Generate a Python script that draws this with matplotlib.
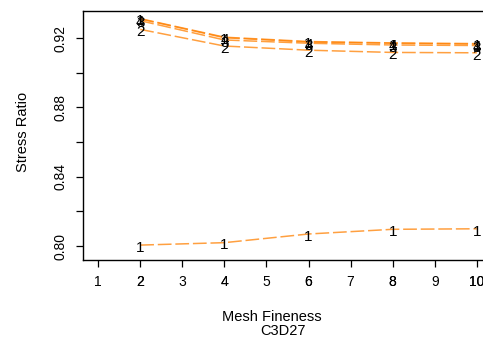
import matplotlib
matplotlib.use("Agg")
import matplotlib.pyplot as plt

plt.rcParams['font.family'] = ['Liberation Sans', 'DejaVu Sans']

mesh = [2, 4, 6, 8, 10]
xticks = [1, 2, 3, 4, 5, 6, 7, 8, 9, 10]
yticks = [0.80, 0.82, 0.84, 0.86, 0.88, 0.90, 0.92]
yticklabels = ["0.80", "", "0.84", "", "0.88", "", "0.92"]

series = [
    ("1", [0.8006, 0.8020, 0.8070, 0.8097, 0.8100]),
    ("2", [0.9250, 0.9154, 0.9130, 0.9117, 0.9115]),
    ("3", [0.9300, 0.9189, 0.9170, 0.9160, 0.9157]),
    ("4", [0.9310, 0.9202, 0.9177, 0.9170, 0.9165]),
    ("1", [0.9312, 0.9205, 0.9180, 0.9172, 0.9168]),
]

fig = plt.figure(figsize=(4.83, 3.41), dpi=100)
ax = fig.add_axes([83/483, 1-260/341, 409/483, 249/341])

for lab, vals in series:
    ax.plot(mesh, vals, color='#FF8000', alpha=0.75, lw=1.1,
            dashes=(9, 2.5), zorder=2)
    for x, y in zip(mesh, vals):
        ax.annotate(lab, (x, y), xytext=(0, -2), textcoords='offset points',
                    ha='center', va='center', fontsize=11,
                    color='black', zorder=3)

ax.set_xlim(0.64, 10.36)
ax.set_ylim(0.792, 0.9356)
ax.set_xticks(xticks)
ax.set_xticklabels([str(t) for t in xticks], fontsize=10)
ax.set_yticks(yticks)
ax.set_yticklabels(yticklabels, fontsize=10, rotation=90, va='center')
ax.tick_params(axis='both', direction='out', length=5, width=0.9, pad=6)
ax.spines['right'].set_visible(False)
for s in ['left', 'bottom', 'top']:
    ax.spines[s].set_linewidth(1.0)

# heavier even tick labels (overplotted axis in original)
fig.canvas.draw()
for lbl in ax.get_xticklabels():
    if lbl.get_text() in ("2", "4", "6", "8", "10"):
        x, y = lbl.get_position()
        ax.text(x, y, lbl.get_text(), transform=lbl.get_transform(),
                ha=lbl.get_ha(), va=lbl.get_va(), fontsize=10,
                color='black', clip_on=False)

fig.text(23/483, 1-132/341, "Stress Ratio", rotation=90, ha='center',
         va='center', fontsize=10.5)
fig.text(272/483, 1-317/341, "Mesh Fineness", ha='center', va='center', fontsize=10.5)
fig.text(283/483, 1-331/341, "C3D27", ha='center', va='center', fontsize=10.5)

fig.savefig("out.png", dpi=100)
